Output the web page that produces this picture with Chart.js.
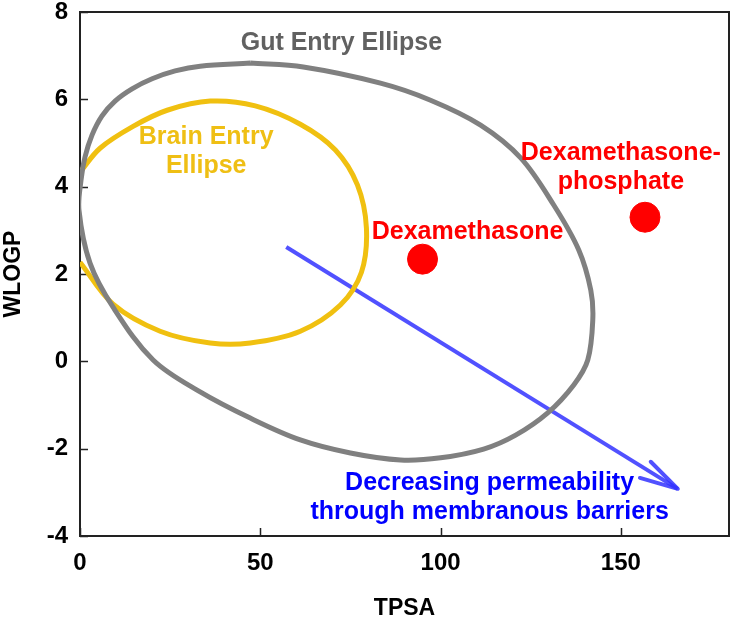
<!DOCTYPE html>
<html>
<head>
<meta charset="utf-8">
<script src="https://cdn.jsdelivr.net/npm/chart.js@4/dist/chart.umd.min.js"></script>
<style>
  body { margin: 0; background: #fff; }
  #wrap { width: 732px; height: 622px; }
</style>
</head>
<body>
<div id="wrap"><canvas id="boiledEgg"></canvas></div>
<script>
// Compounds (TPSA vs WLOGP)
const compounds = ['Dexamethasone', 'Dexamethasone-phosphate'];
const tpsa = [95, 156.7];
const wlogp = [2.34, 3.3];

// Gut entry ellipse outline (starts at the top)
const gutX = [47.22, 61.94, 83.33, 97.22, 111.11, 122.22, 131.39, 138.33, 141.67, 142.22, 140.83, 136.94, 129.72, 120.83, 111.94, 100, 88.89, 75, 61.11, 47.22, 33.33, 20.28, 9.17, 2.78, -0.28, 0.28, 1.39, 3.33, 6.11, 9.72, 14.44, 20, 26.39, 33.33, 47.22];
const gutY = [6.83, 6.74, 6.37, 5.98, 5.41, 4.66, 3.58, 2.55, 1.63, 0.95, 0.03, -0.54, -1.18, -1.69, -2.01, -2.21, -2.26, -2.10, -1.80, -1.30, -0.70, 0.03, 1.24, 2.25, 3.46, 4.15, 4.68, 5.18, 5.62, 5.96, 6.24, 6.47, 6.65, 6.76, 6.83];

// Brain entry ellipse (visible arc, cut at TPSA = 0)
const brainX = [0, 5.56, 14.72, 24.17, 36.11, 48.61, 61.11, 70.83, 76.94, 79.44, 78.06, 72.22, 61.11, 47.22, 36.11, 22.22, 9.17, 0];
const brainY = [4.33, 4.88, 5.38, 5.75, 5.96, 5.85, 5.43, 4.84, 4.04, 3.05, 2.04, 1.29, 0.69, 0.42, 0.42, 0.69, 1.31, 2.27];

// Permeability arrow: shaft and head
const arrowX = [57.2, 165.8];
const arrowY = [2.62, -2.92];
const headX = [158.3, 165.8, 155.3];
const headY = [-2.30, -2.92, -2.67];

// Axis ticks
const xTicks = [0, 50, 100, 150];
const yTicks = [-4, -2, 0, 2, 4, 6, 8];

const pts = (xs, ys) => xs.map((x, i) => ({ x: x, y: ys[i] }));

const FONT = "'Liberation Sans', Arial, sans-serif";
const BLUE = 'rgba(50, 50, 255, 0.85)';

// Text placed in data coordinates
const notes = [
  { lines: ['Gut Entry Ellipse'], x: 72.5, y: 7.29, color: '#616161' },
  { lines: ['Brain Entry', 'Ellipse'], x: 35, y: 5.13, color: '#efbf14' },
  { lines: ['Dexamethasone'], x: 107.5, y: 2.97, color: '#ff0000' },
  { lines: ['Dexamethasone-', 'phosphate'], x: 150, y: 4.77, color: '#ff0000' },
  { lines: ['Decreasing permeability', 'through membranous barriers'], x: 113.6, y: -2.79, color: '#0000ff' }
];

const overlay = {
  id: 'overlay',
  beforeDatasetsDraw(chart) {
    const ctx = chart.ctx;
    const { left, right, top, bottom } = chart.chartArea;
    const xs = chart.scales.x, ys = chart.scales.y;
    ctx.save();
    ctx.strokeStyle = '#222';
    ctx.lineWidth = 2;
    ctx.strokeRect(left, top, right - left, bottom - top);
    ctx.lineWidth = 1.5;
    ctx.beginPath();
    yTicks.forEach(v => {
      const py = Math.round(ys.getPixelForValue(v)) + 0.5;
      ctx.moveTo(left, py); ctx.lineTo(left + 8, py);
    });
    xTicks.forEach(v => {
      const px = Math.round(xs.getPixelForValue(v)) + 0.5;
      ctx.moveTo(px, bottom); ctx.lineTo(px, bottom - 8);
    });
    ctx.stroke();
    ctx.restore();
  },
  afterDatasetsDraw(chart) {
    const ctx = chart.ctx;
    const xs = chart.scales.x, ys = chart.scales.y;
    ctx.save();
    ctx.font = 'bold 25px ' + FONT;
    ctx.textAlign = 'center';
    ctx.textBaseline = 'middle';
    notes.forEach(n => {
      ctx.fillStyle = n.color;
      const px = xs.getPixelForValue(n.x);
      const py = ys.getPixelForValue(n.y);
      n.lines.forEach((t, i) => ctx.fillText(t, px, py + i * 29));
    });
    ctx.restore();
  }
};

new Chart(document.getElementById('boiledEgg'), {
  type: 'scatter',
  data: {
    datasets: [
      {
        label: 'Gut Entry Ellipse',
        data: pts(gutX, gutY),
        showLine: true, tension: 0.35,
        borderColor: '#808080', borderWidth: 5,
        pointRadius: 0
      },
      {
        label: 'Brain Entry Ellipse',
        data: pts(brainX, brainY),
        showLine: true, tension: 0.35,
        borderColor: '#f0c010', borderWidth: 5,
        pointRadius: 0
      },
      {
        label: 'Arrow',
        data: pts(arrowX, arrowY),
        showLine: true,
        borderColor: BLUE, borderWidth: 4,
        pointRadius: 0
      },
      {
        label: 'Arrow head',
        data: pts(headX, headY),
        showLine: true,
        borderColor: BLUE, borderWidth: 4,
        borderCapStyle: 'round', borderJoinStyle: 'round',
        pointRadius: 0
      },
      {
        label: 'Compounds',
        data: pts(tpsa, wlogp),
        backgroundColor: '#ff0000',
        borderColor: '#ff0000',
        pointRadius: 15,
        pointHoverRadius: 15
      }
    ]
  },
  options: {
    responsive: true,
    maintainAspectRatio: false,
    animation: false,
    layout: { autoPadding: false, padding: { top: 12, right: 3, left: 0, bottom: 0 } },
    plugins: {
      legend: { display: false },
      tooltip: { enabled: false }
    },
    scales: {
      x: {
        type: 'linear', min: 0, max: 180,
        afterBuildTicks: s => { s.ticks = xTicks.map(v => ({ value: v })); },
        afterFit: s => { s.height = 86; s.paddingLeft = 0; s.paddingRight = 0; },
        grid: { display: false, drawTicks: false },
        border: { display: false },
        ticks: { color: '#000', padding: 13, font: { family: FONT, size: 24, weight: 'bold' } },
        title: {
          display: true, text: 'TPSA', color: '#000',
          padding: { top: 4, bottom: 0 },
          font: { family: FONT, size: 23, weight: 'bold' }
        }
      },
      y: {
        type: 'linear', min: -4, max: 8,
        afterBuildTicks: s => { s.ticks = yTicks.map(v => ({ value: v })); },
        afterFit: s => { s.width = 80; s.paddingTop = 0; s.paddingBottom = 0; },
        grid: { display: false, drawTicks: false },
        border: { display: false },
        ticks: { color: '#000', padding: 12, font: { family: FONT, size: 24, weight: 'bold' } },
        title: {
          display: true, text: 'WLOGP', color: '#000',
          padding: { top: 0, bottom: 0 },
          font: { family: FONT, size: 23, weight: 'bold' }
        }
      }
    }
  },
  plugins: [overlay]
});
</script>
</body>
</html>
